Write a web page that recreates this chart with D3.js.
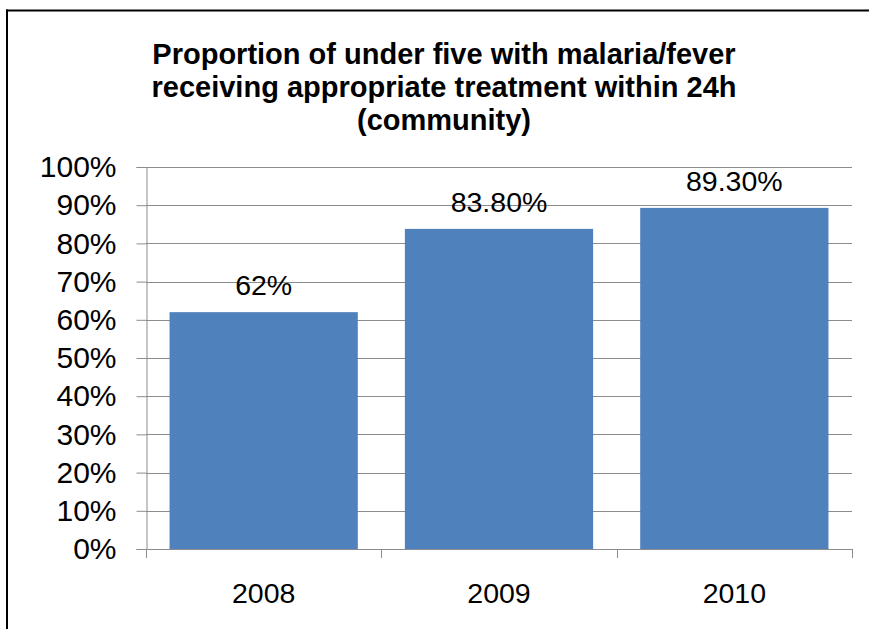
<!DOCTYPE html>
<html>
<head>
<meta charset="utf-8">
<script src="https://cdn.jsdelivr.net/npm/d3@7/dist/d3.min.js"></script>
<style>
  html, body { margin: 0; padding: 0; background: #fff; overflow: hidden; }
  svg { display: block; font-family: Arial, "Liberation Sans", sans-serif; }
</style>
</head>
<body>
<svg id="chart" width="869" height="629"></svg>
<script>
// Chart data
const titleLines = [
  "Proportion of under five with malaria/fever",
  "receiving appropriate treatment within 24h",
  "(community)"
];
const years = ["2008", "2009", "2010"];
const values = [62, 83.8, 89.3];
const valueLabels = ["62%", "83.80%", "89.30%"];
const yTicks = [0, 10, 20, 30, 40, 50, 60, 70, 80, 90, 100];

const svg = d3.select("#chart");

// Outer frame edges drawn as thin filled strips (top and left)
svg.append("rect").attr("x", 6).attr("y", 9.5).attr("width", 863).attr("height", 2).attr("fill", "#000");
svg.append("rect").attr("x", 6).attr("y", 9.5).attr("width", 2).attr("height", 620).attr("fill", "#000");

// Title
const title = svg.append("text")
  .attr("text-anchor", "middle")
  .attr("font-weight", "bold")
  .attr("font-size", 29)
  .attr("fill", "#000");
titleLines.forEach((t, i) => {
  title.append("tspan")
    .attr("x", 444)
    .attr("y", 64 + i * 33)
    .text(t);
});

// Plot area
const plot = { left: 146, right: 852, top: 167, bottom: 549 };

const x = d3.scaleBand()
  .domain(years)
  .range([plot.left, plot.right])
  .paddingInner(0.2)
  .paddingOuter(0.1);

const y = d3.scaleLinear()
  .domain([0, 100])
  .range([plot.bottom, plot.top]);

// Horizontal gridlines
svg.append("g")
  .selectAll("line")
  .data(yTicks.filter(d => d > 0))
  .join("line")
  .attr("x1", plot.left).attr("x2", plot.right)
  .attr("y1", d => Math.round(y(d)) + 0.5)
  .attr("y2", d => Math.round(y(d)) + 0.5)
  .attr("stroke", "#8c8c8c")
  .attr("stroke-width", 1);

// Bars
svg.append("g")
  .selectAll("rect")
  .data(values)
  .join("rect")
  .attr("x", (d, i) => x(years[i]))
  .attr("width", x.bandwidth())
  .attr("y", d => y(d))
  .attr("height", d => y(0) - y(d))
  .attr("fill", "#4F81BD");

// Value labels
svg.append("g")
  .selectAll("text")
  .data(values)
  .join("text")
  .attr("x", (d, i) => x(years[i]) + x.bandwidth() / 2)
  .attr("y", d => y(d) - 17)
  .attr("text-anchor", "middle")
  .attr("font-size", 28.5)
  .attr("fill", "#000")
  .text((d, i) => valueLabels[i]);

// Y axis
const yAxis = d3.axisLeft(y)
  .tickValues(yTicks)
  .tickFormat(d => d + "%")
  .tickSize(10)
  .tickPadding(20);

const yg = svg.append("g")
  .attr("transform", `translate(${plot.left + 0.5},0)`)
  .call(yAxis);
yg.select(".domain").attr("stroke", "#8c8c8c");
yg.selectAll(".tick line").attr("stroke", "#8c8c8c");
yg.selectAll(".tick text")
  .attr("font-size", 30)
  .attr("font-family", "Arial, 'Liberation Sans', sans-serif")
  .attr("fill", "#000");

// X axis baseline with category-boundary ticks
const xg = svg.append("g");
xg.append("line")
  .attr("x1", plot.left).attr("x2", plot.right + 0.5)
  .attr("y1", plot.bottom + 0.5).attr("y2", plot.bottom + 0.5)
  .attr("stroke", "#8c8c8c");
const boundaries = d3.range(years.length + 1).map(i => plot.left + i * (plot.right - plot.left) / years.length);
xg.selectAll("line.b")
  .data(boundaries)
  .join("line")
  .attr("class", "b")
  .attr("x1", d => Math.round(d) + 0.5).attr("x2", d => Math.round(d) + 0.5)
  .attr("y1", plot.bottom).attr("y2", plot.bottom + 9)
  .attr("stroke", "#8c8c8c");

xg.selectAll("text")
  .data(years)
  .join("text")
  .attr("x", d => x(d) + x.bandwidth() / 2)
  .attr("y", 603)
  .attr("text-anchor", "middle")
  .attr("font-size", 28.5)
  .attr("fill", "#000")
  .text(d => d);
</script>
</body>
</html>
